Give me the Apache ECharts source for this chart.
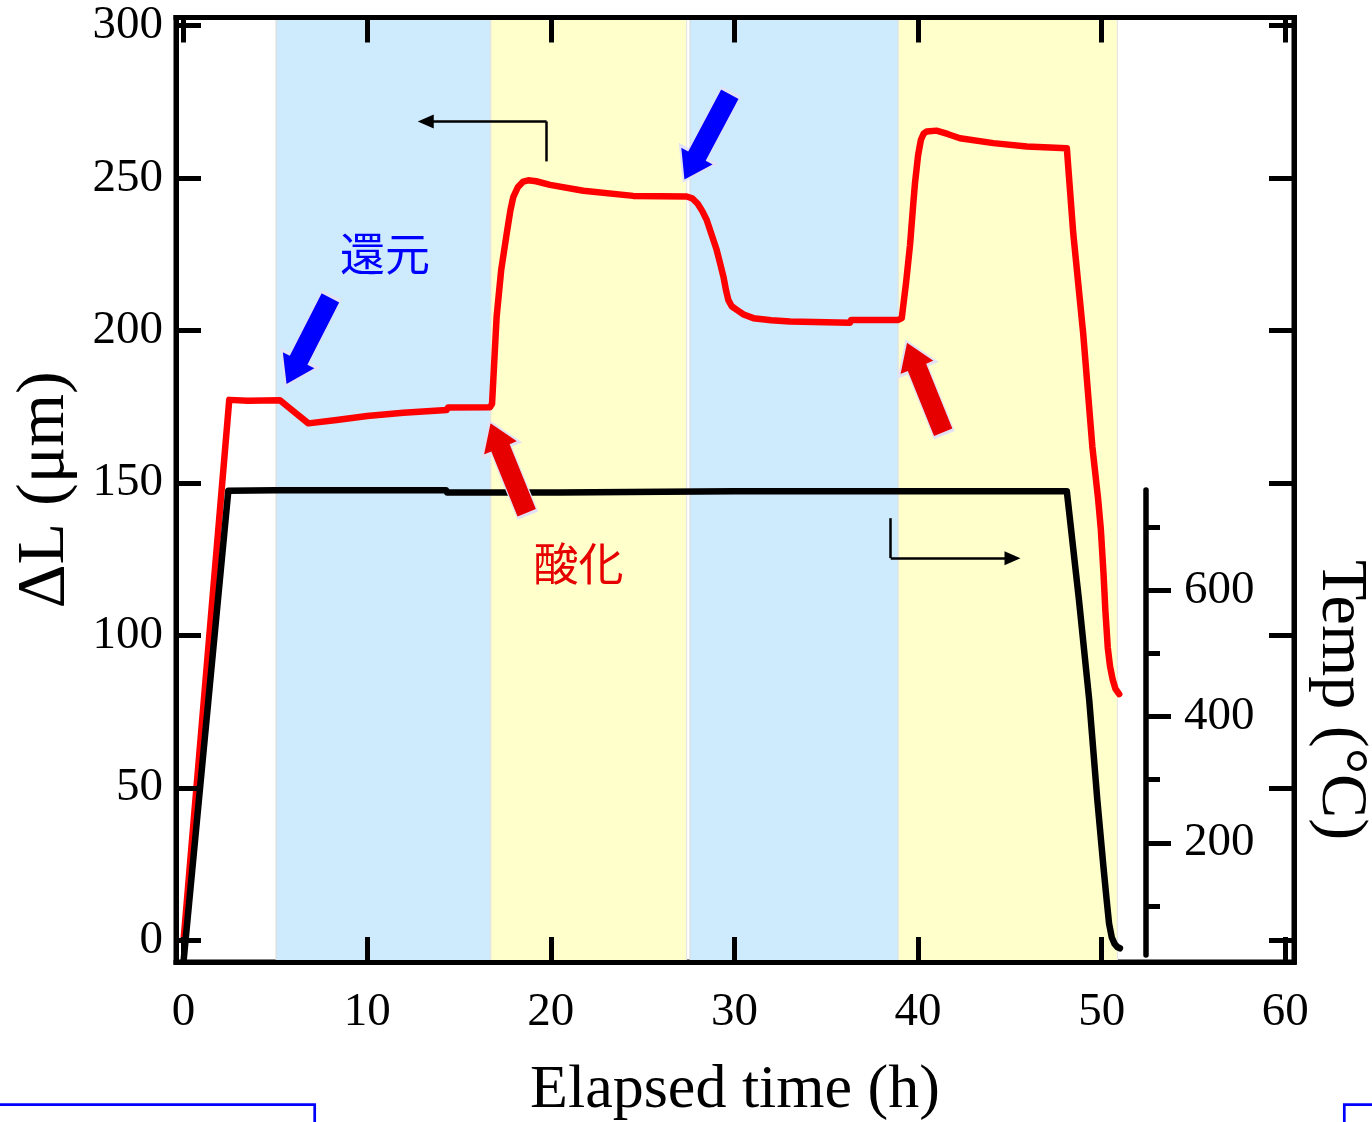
<!DOCTYPE html>
<html><head><meta charset="utf-8">
<script src="https://cdn.jsdelivr.net/npm/echarts@6/dist/echarts.min.js"></script>
<style>html,body{margin:0;padding:0;background:#fff}#c{width:1372px;height:1122px}</style>
</head><body><div id="c"></div><script>
// ---- data ----
const timeDL = [0, 2.49, 3.5, 5.25, 6.0, 6.8, 8.34, 10.0, 11.97, 14.33, 14.4, 16.69, 16.8, 17.05, 17.3, 17.6, 17.8, 17.96, 18.2, 18.5, 18.77, 19.2, 19.96, 21.77, 24.49, 27.4, 27.7, 28.0, 28.25, 28.49, 28.75, 29.03, 29.2, 29.40, 29.55, 29.67, 29.85, 30.13, 30.5, 31.03, 32.0, 33.03, 36.29, 36.35, 38.92, 39.11, 39.35, 39.56, 39.74, 39.83, 40.0, 40.15, 40.3, 40.47, 41.0, 41.6, 42.28, 44.1, 45.92, 48.1, 48.45, 48.99, 49.49, 49.8, 49.95, 50.1, 50.2, 50.33, 50.45, 50.6, 50.75, 50.95];
const valueDL = [0, 177.3, 177.0, 177.2, 173.5, 169.6, 170.7, 172.0, 173.1, 174.0, 174.8, 174.9, 176.0, 204.6, 220.0, 231.9, 239.5, 243.9, 247.0, 248.9, 249.3, 249.0, 247.8, 245.9, 244.2, 244.0, 243.4, 241.6, 239.2, 236.3, 231.6, 226.5, 222.5, 217.7, 213.0, 210.0, 208.0, 206.8, 205.3, 204.1, 203.4, 203.0, 202.6, 203.5, 203.5, 204.1, 216.0, 228.0, 241.8, 248.3, 257.5, 262.5, 264.6, 265.3, 265.6, 264.5, 263.1, 261.5, 260.4, 259.8, 231.9, 199.1, 161.9, 145.0, 135.0, 120.0, 108.0, 96.0, 90.0, 85.5, 82.5, 80.8];
const timeTemp = [0, 2.44, 5.0, 14.3, 14.35, 20.4, 20.5, 30, 40, 48.1, 48.76, 49.32, 49.76, 50.1, 50.27, 50.4, 50.55, 50.7, 50.85, 50.99];
const valueTemp = [12, 758, 758.5, 758.5, 755, 755, 757, 757, 757, 757, 585, 426, 268, 160, 109, 72, 50, 40, 35, 33];
const reductionBands = [[5.04, 16.73], [27.58, 38.92]];
const oxidationBands = [[16.73, 27.39], [38.92, 50.85]];
const tempMajorTicks = [200, 400, 600];
const tempMinorTicks = [100, 300, 500, 700];
const labelReduction = '還元';
const labelOxidation = '酸化';
// annotation anchors in data units
const blueArrows = [[6.80, 196.6, 153], [28.51, 263.5, 152]];
const redArrows = [[17.70, 155.0, 22], [40.38, 181.4, 22]];
const textReductionAt = [10.97, 225.1];
const textOxidationAt = [21.51, 123.5];
const guideLeft = [[19.77, 255.5], [19.77, 268.6], [13.19, 268.6]];
const guideRight = [[38.51, 138.5], [38.51, 125.4], [45.14, 125.4]];

// ---- layout ----
const serif = 'Liberation Serif';
const FL = 176, FR = 1294, FT = 17.5, FB = 962;
const xMin = -0.41, xMax = 60.47, yMin = -7.05, yMax = 302.7;
const tY = t => 969.1 - 0.6312 * t;   // temperature axis pixel mapping
const tempLineTop = 490, tempLineBottom = 955;
const tMin = (969.1 - tempLineBottom) / 0.6312, tMax = (969.1 - tempLineTop) / 0.6312;

const chart = echarts.init(document.getElementById('c'), null, {renderer: 'canvas'});
const frameLine = {show: true, onZero: false, lineStyle: {color: '#000', width: 5, cap: 'square'}};
const hiddenX = gi => ({type: 'value', gridIndex: gi, min: xMin, max: xMax, show: false, axisLine: {onZero: false}});
const tempAxisBase = gi => ({type: 'value', gridIndex: gi, position: 'right', offset: 1146 - FR, splitLine: {show: false}, z: 10});
const arrowPath = 'path://M20 0L40 30L30.5 30L30.5 100L9.5 100L9.5 30L0 30Z';

const option = {
  animation: false,
  backgroundColor: '#fff',
  grid: [
    {left: FL, top: FT, width: FR - FL, height: FB - FT, show: true, borderColor: '#000', borderWidth: 5, backgroundColor: 'transparent', outerBoundsMode: 'none', containLabel: false},
    {left: FL, top: tempLineTop, width: FR - FL, height: tempLineBottom - tempLineTop, outerBoundsMode: 'none', containLabel: false},
    {left: FL, top: tY(700), width: FR - FL, height: tY(100) - tY(700), outerBoundsMode: 'none', containLabel: false},
    {left: FL, top: tY(600), width: FR - FL, height: tY(200) - tY(600), outerBoundsMode: 'none', containLabel: false}
  ],
  xAxis: [
    {type: 'value', gridIndex: 0, position: 'bottom', min: xMin, max: xMax, splitNumber: 6, z: 10,
     axisLine: frameLine, axisTick: {show: true, inside: true, length: 25, lineStyle: {color: '#000', width: 5}},
     axisLabel: {show: true, margin: 27, fontFamily: serif, fontSize: 47, color: '#000', showMinLabel: false, showMaxLabel: false},
     splitLine: {show: false},
     name: 'Elapsed time (h)', nameLocation: 'middle', nameGap: 98, nameMoveOverlap: false,
     nameTextStyle: {fontFamily: serif, fontSize: 62, color: '#000'}},
    {type: 'value', gridIndex: 0, position: 'top', min: xMin, max: xMax, splitNumber: 6, z: 10,
     axisLine: frameLine, axisTick: {show: true, inside: true, length: 25, lineStyle: {color: '#000', width: 5}},
     axisLabel: {show: false}, splitLine: {show: false}},
    hiddenX(1), hiddenX(2), hiddenX(3)
  ],
  yAxis: [
    {type: 'value', gridIndex: 0, position: 'left', min: yMin, max: yMax, splitNumber: 6, z: 10,
     axisLine: frameLine, axisTick: {show: true, inside: true, length: 25, lineStyle: {color: '#000', width: 5}},
     axisLabel: {show: true, margin: 13, padding: [5, 0, 0, 0], fontFamily: serif, fontSize: 47, color: '#000', showMinLabel: false, showMaxLabel: false},
     splitLine: {show: false},
     name: 'ΔL (μm)', nameLocation: 'middle', nameRotate: 90, nameGap: 97, nameMoveOverlap: false,
     nameTextStyle: {fontFamily: serif, fontSize: 68, color: '#000'}},
    {type: 'value', gridIndex: 0, position: 'right', min: yMin, max: yMax, splitNumber: 6, z: 10,
     axisLine: frameLine, axisTick: {show: true, inside: true, length: 25, lineStyle: {color: '#000', width: 5}},
     axisLabel: {show: false}, splitLine: {show: false}},
    Object.assign(tempAxisBase(1), {min: tMin, max: tMax,
      axisLine: {show: true, onZero: false, lineStyle: {color: '#000', width: 5.5}}, axisTick: {show: false}, axisLabel: {show: false}}),
    Object.assign(tempAxisBase(2), {min: tempMinorTicks[0], max: tempMinorTicks[tempMinorTicks.length - 1], interval: tempMinorTicks[1] - tempMinorTicks[0],
      axisLine: {show: false, onZero: false}, axisTick: {show: true, inside: false, length: 14, lineStyle: {color: '#000', width: 5}}, axisLabel: {show: false}}),
    Object.assign(tempAxisBase(3), {min: tempMajorTicks[0], max: tempMajorTicks[tempMajorTicks.length - 1], interval: tempMajorTicks[1] - tempMajorTicks[0],
      axisLine: {show: false, onZero: false}, axisTick: {show: true, inside: false, length: 25, lineStyle: {color: '#000', width: 5}},
      axisLabel: {show: true, margin: 38, padding: [4, 0, 0, 0], fontFamily: serif, fontSize: 47, color: '#000'}})
  ],
  graphic: [
    {type: 'text', x: 1340.7, y: 700, rotation: -Math.PI / 2, z: 20,
     style: {text: 'Temp (°C)', font: '66px "Liberation Serif"', fill: '#000', align: 'center', verticalAlign: 'middle'}},
    {type: 'polyline', z: 20, shape: {points: [[0, 1104.7], [314.7, 1104.7], [314.7, 1122]]}, style: {stroke: '#0000ff', lineWidth: 2.7, fill: null}},
    {type: 'polyline', z: 20, shape: {points: [[1344.3, 1122], [1344.3, 1104.7], [1372, 1104.7]]}, style: {stroke: '#0000ff', lineWidth: 2.7, fill: null}}
  ],
  series: [
    {type: 'line', name: 'bands', xAxisIndex: 0, yAxisIndex: 0, data: [], z: 1, silent: true,
     markArea: {silent: true, z: 1,
       data: reductionBands.map(b => [{xAxis: b[0], itemStyle: {color: '#cdebfd', borderColor: '#dcdcdc', borderWidth: 1.2}}, {xAxis: b[1]}])
         .concat(oxidationBands.map(b => [{xAxis: b[0], itemStyle: {color: '#ffffcc', borderColor: '#e6e6e6', borderWidth: 1.2}}, {xAxis: b[1]}]))}},
    {type: 'line', name: 'dL', xAxisIndex: 0, yAxisIndex: 0, z: 3, silent: true,
     data: timeDL.map((t, i) => [t, valueDL[i]]), showSymbol: false, symbol: 'none', smooth: false,
     lineStyle: {color: '#ff0000', width: 6.5, cap: 'round', join: 'round'}},
    {type: 'line', name: 'temp', xAxisIndex: 2, yAxisIndex: 2, z: 4, silent: true, clip: false,
     data: timeTemp.map((t, i) => [t, valueTemp[i]]), showSymbol: false, symbol: 'none', smooth: false,
     lineStyle: {color: '#000', width: 6.5, cap: 'round', join: 'round'}},
    {type: 'line', name: 'notes', xAxisIndex: 0, yAxisIndex: 0, data: [], z: 6, silent: true,
     markPoint: {silent: true, z: 6, label: {show: false},
       data: blueArrows.map(a => ({coord: [a[0], a[1]], symbol: arrowPath, symbolSize: [40, 100], symbolRotate: a[2],
               itemStyle: {color: '#0000ff', borderColor: '#e2e2f4', borderWidth: 2}, label: {show: false}}))
         .concat(redArrows.map(a => ({coord: [a[0], a[1]], symbol: arrowPath, symbolSize: [40, 100], symbolRotate: a[2],
               itemStyle: {color: '#e60000', borderColor: '#e2e2f4', borderWidth: 2}, label: {show: false}})))
         .concat([
           {coord: textReductionAt, symbol: 'rect', symbolSize: [1, 1], itemStyle: {color: 'rgba(0,0,0,0)'},
            label: {show: true, position: 'inside', formatter: labelReduction, color: '#0000ff', fontSize: 45, fontFamily: 'Noto Sans CJK JP'}},
           {coord: textOxidationAt, symbol: 'rect', symbolSize: [1, 1], itemStyle: {color: 'rgba(0,0,0,0)'},
            label: {show: true, position: 'inside', formatter: labelOxidation, color: '#e60000', fontSize: 45, fontFamily: 'Noto Sans CJK JP'}}
         ])},
     markLine: {silent: true, z: 6, symbol: ['none', 'none'], label: {show: false},
       lineStyle: {color: '#000', width: 2.5, type: 'solid'},
       data: [guideLeft, guideRight].flatMap(g => [
         [{coord: g[0]}, {coord: g[1]}],
         [{coord: g[1]}, {coord: g[2], symbol: 'triangle', symbolSize: [14, 16]}]
       ])}}
  ]
};
chart.setOption(option);
</script></body></html>
